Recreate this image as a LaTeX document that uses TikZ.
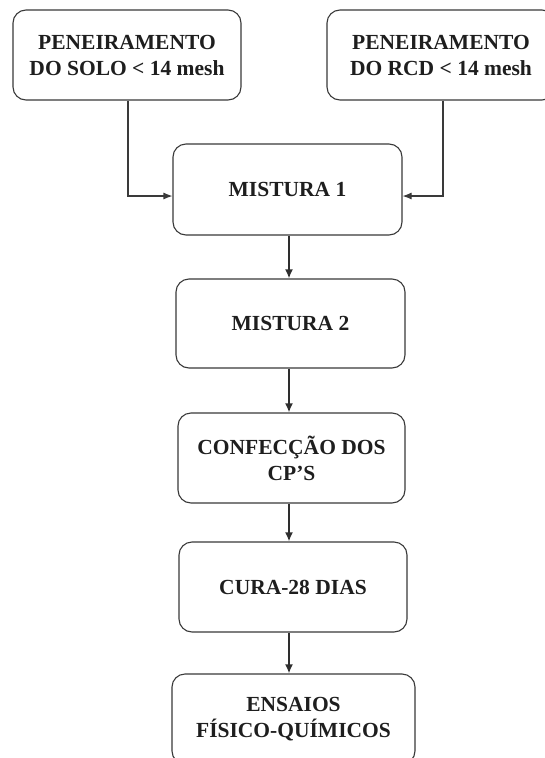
\documentclass[tikz,border=0pt]{standalone}
\usepackage{fontspec}
\setmainfont{Liberation Serif}
\usetikzlibrary{arrows.meta}
\definecolor{linec}{HTML}{3A3A3A}
\definecolor{textc}{HTML}{1E1E1E}
\tikzset{
  box/.style={draw=linec, line width=1.1pt, rounded corners=13pt, minimum width=229pt, minimum height=90pt,
    align=center, text=textc, font=\fontsize{21.5pt}{26pt}\selectfont\bfseries, inner sep=0pt},
  conn/.style={draw=linec, line width=1.1pt, -{Latex[length=9pt,width=7pt]}},
  vconn/.style={draw=linec!80!black, line width=1.8pt, -{Latex[length=9pt,width=8pt]}}
}
\begin{document}
\begin{tikzpicture}[x=1pt,y=-1pt]
\clip (0,0) rectangle (545,758);
\fill[white] (0,0) rectangle (545,758);
\node[box, minimum width=228pt] (b1) at (127,55) {PENEIRAMENTO\\DO SOLO < 14 mesh};
\node[box, minimum width=228pt] (b2) at (441,55) {PENEIRAMENTO\\DO RCD < 14 mesh};
\node[box, minimum height=91pt] (m1) at (287.5,189.5) {MISTURA 1};
\node[box, minimum height=89pt] (m2) at (290.5,323.5) {MISTURA 2};
\node[box, minimum width=227pt] (cf) at (291.5,458) {CONFECÇÃO DOS\\CP’S};
\node[box, minimum width=228pt] (cu) at (293,587) {CURA-28 DIAS};
\node[box, minimum width=243pt] (en) at (293.5,719) {ENSAIOS\\FÍSICO-QUÍMICOS};
\coordinate (jl) at (128,196);
\coordinate (jr) at (443,196);
\draw[conn] (b1.south -| jl) -- (jl) -- (jl -| m1.west);
\draw[conn] (b2.south -| jr) -- (jr) -- (jr -| m1.east);
\coordinate (vx) at (289,0);
\draw[vconn] (vx |- m1.south) -- (vx |- m2.north);
\draw[vconn] (vx |- m2.south) -- (vx |- cf.north);
\draw[vconn] (vx |- cf.south) -- (vx |- cu.north);
\draw[vconn] (vx |- cu.south) -- (vx |- en.north);
\end{tikzpicture}
\end{document}
